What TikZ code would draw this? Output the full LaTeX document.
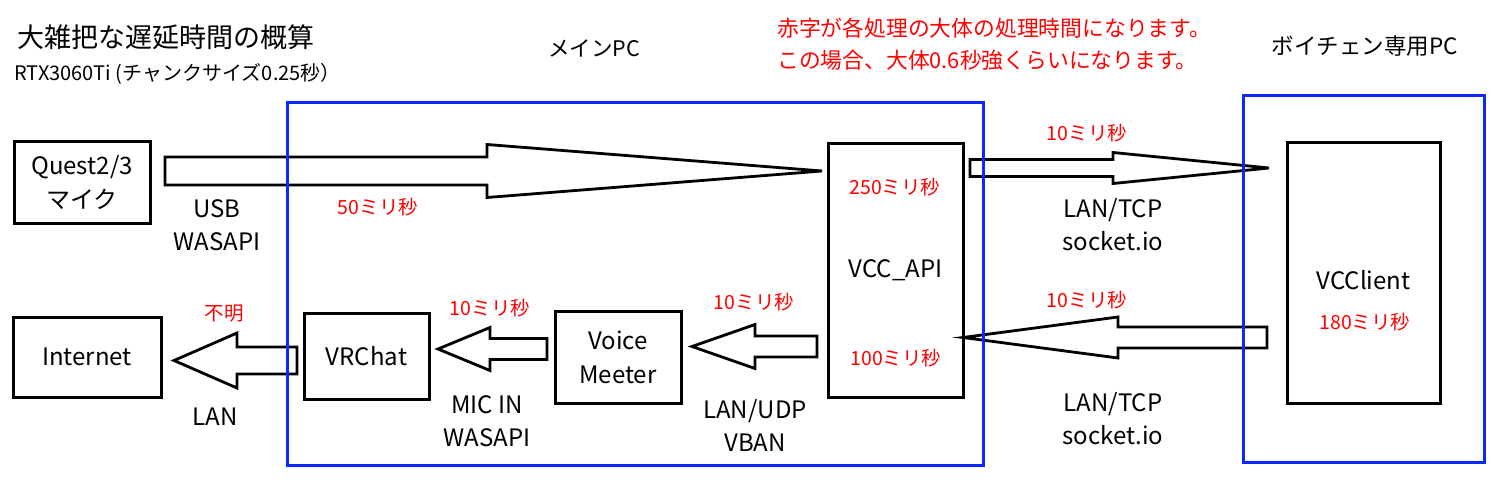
\documentclass[tikz,border=0pt]{standalone}
\usepackage{fontspec}
\setmainfont{Noto Sans CJK JP}
\usetikzlibrary{calc}
\definecolor{frameblue}{RGB}{10,40,255}
\definecolor{txtred}{RGB}{255,0,0}
\tikzset{
  box/.style={draw, line width=3pt, inner sep=0pt, align=center, font=\fontsize{24}{34}\selectfont},
  frame/.style={draw=frameblue, line width=3pt},
  lbl/.style={inner sep=0pt, align=center, font=\fontsize{24}{33}\selectfont},
  redlbl/.style={inner sep=0pt, text=txtred, font=\fontsize{19.5}{26}\selectfont},
  arrowline/.style={draw, line width=2.8pt, line join=miter, fill=none},
}
% #1 tail, #2 tip, #3 shaft half width, #4 head length, #5 head half width
\newcommand\blockarrow[5]{%
  \draw[arrowline] let \p1=(#1), \p2=(#2), \p3=($(#2)!#4pt!(#1)$) in
    (\x1,\y1+#3pt) -- (\x3,\y1+#3pt) -- (\x3,\y1+#5pt) -- (\p2) --
    (\x3,\y1-#5pt) -- (\x3,\y1-#3pt) -- (\x1,\y1-#3pt) -- cycle;}
\begin{document}
\begin{tikzpicture}[x=1pt,y=-1pt]
\useasboundingbox (0,0) rectangle (1500,500);
% titles
\node[inner sep=0pt, anchor=west, font=\fontsize{27}{30}\selectfont] (title) at (17,37) {大雑把な遅延時間の概算};
\node[inner sep=0pt, anchor=west, font=\fontsize{20}{22}\selectfont] (sub) at (14,74) {RTX3060Ti (チャンクサイズ0.25秒）};
\node[inner sep=0pt, font=\fontsize{21.5}{25}\selectfont] (mainpc) at (594,48) {メインPC};
\node[inner sep=0pt, anchor=west, align=left, text=txtred, font=\fontsize{21.8}{32.5}\selectfont] (note) at (777,44) {赤字が各処理の大体の処理時間になります。\\この場合、大体0.6秒強くらいになります。};
\node[inner sep=0pt, font=\fontsize{22.5}{26}\selectfont] (vcpc) at (1365,46) {ボイチェン専用PC};

% boxes
\node[box, minimum width=136pt, minimum height=81pt] (quest) at (82,182.5) {Quest2/3\\マイク};
\node[box, minimum width=148pt, minimum height=80pt] (inet) at (87,357) {Internet};
\node[box, minimum width=125pt, minimum height=86pt] (vrchat) at (366.5,356) {VRChat};
\node[box, minimum width=126pt, minimum height=92pt] (vm) at (618,357) {Voice\\Meeter};
\node[box, minimum width=135pt, minimum height=253pt] (vcc) at (895.5,270.5) {VCC\_API};
\node[box, minimum width=153pt, minimum height=260pt] (vcclient) at (1363.5,273) {\\VCClient};

% arrow end points
\coordinate (a1s) at (165,171);  \coordinate (a1e) at (822,171);
\coordinate (a2s) at (970,168);  \coordinate (a2e) at (1269,168);
\coordinate (a3s) at (1267,337.5); \coordinate (a3e) at (963,337.5);
\coordinate (a4s) at (817,346.5);  \coordinate (a4e) at (692,346.5);
\coordinate (a5s) at (547,349);  \coordinate (a5e) at (438,349);
\coordinate (a6s) at (297,360.5);  \coordinate (a6e) at (174,360.5);

\blockarrow{a1s}{a1e}{14}{335}{26.5}
\blockarrow{a2s}{a2e}{8.5}{156}{15.5}
\blockarrow{a3s}{a3e}{10.5}{155}{20.5}
\blockarrow{a4s}{a4e}{10.5}{63}{22}
\blockarrow{a5s}{a5e}{10.5}{52}{21.5}
\blockarrow{a6s}{a6e}{13.5}{63}{27.5}

% blue frames
\draw[frame] (287,103) rectangle (983,465);
\draw[frame] (1243,96) rectangle (1484,462);

% black labels
\node[lbl] (usb) at (217,225) {USB\\WASAPI};
\node[lbl] (tcp1) at (1113,225) {LAN/TCP\\socket.io};
\node[lbl] (tcp2) at (1113,419) {LAN/TCP\\socket.io};
\node[lbl] (udp) at (755,425) {LAN/UDP\\VBAN};
\node[lbl] (mic) at (487,421) {MIC IN\\WASAPI};
\node[lbl] (lan) at (215,417) {LAN};

% red labels
\node[redlbl] (t50) at (378,207) {50ミリ秒};
\node[redlbl] (t250) at (895,187) {250ミリ秒};
\node[redlbl] (t100) at (896,358) {100ミリ秒};
\node[redlbl] (t10a) at (1087,133) {10ミリ秒};
\node[redlbl] (t10b) at (1087,300) {10ミリ秒};
\node[redlbl] (t180) at (1365,322) {180ミリ秒};
\node[redlbl] (t10c) at (754,302) {10ミリ秒};
\node[redlbl] (t10d) at (490,308) {10ミリ秒};
\node[redlbl] (unk) at (224,314) {不明};
\end{tikzpicture}
\end{document}
